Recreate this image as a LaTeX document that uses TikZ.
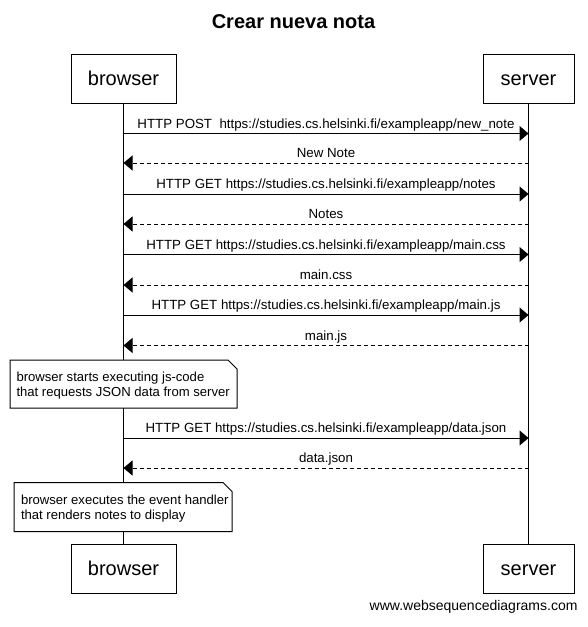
\documentclass[tikz,border=0pt]{standalone}
\usepackage{fontspec}
\setmainfont{Liberation Sans}
\usetikzlibrary{arrows.meta}
\tikzset{every picture/.style={line width=1pt}}
\tikzset{
  actorbox/.style={draw, fill=white, inner sep=0pt, minimum height=49pt, text height=14.3pt, text depth=0pt, font=\fontsize{20}{24}\selectfont},
  msgline/.style={-{Triangle[length=9pt,width=15pt]}},
  replyline/.style={msgline, dash pattern=on 4pt off 3pt},
  msglabel/.style={midway, anchor=base, yshift=5.5pt, inner sep=0pt, font=\fontsize{13.3}{15}\selectfont},
  notetext/.style={anchor=base west, align=left, inner sep=0pt, font=\fontsize{13.1}{15}\selectfont}
}

\begin{document}
\begin{tikzpicture}[x=1pt,y=1pt,yscale=-1]
\useasboundingbox (0,0) rectangle (588,627);

% Title
\node [anchor=base, inner sep=0pt, font=\bfseries\fontsize{20}{24}\selectfont] (title) at (293.5,28.3) {Crear nueva nota};

%Shape: Actors
\node [actorbox, minimum width=105pt] (browserTop) at (123.5,78.5) {browser};
\node [actorbox, minimum width=91pt] (serverTop) at (528.5,78.5) {server};
\node [actorbox, minimum width=105pt] (browserBot) at (123.5,568.5) {browser};
\node [actorbox, minimum width=91pt] (serverBot) at (528.5,568.5) {server};

%Straight Lines: lifelines
\draw (browserTop.south) -- (browserBot.north);
\draw (serverTop.south) -- (serverBot.north);

% message ends on the lifelines
\coordinate (b1) at (123.5,133.5); \coordinate (s1) at (528.5,133.5);
\coordinate (b2) at (123.5,163);   \coordinate (s2) at (528.5,163);
\coordinate (b3) at (123.5,194);   \coordinate (s3) at (528.5,194);
\coordinate (b4) at (123.5,224);   \coordinate (s4) at (528.5,224);
\coordinate (b5) at (123.5,254.5); \coordinate (s5) at (528.5,254.5);
\coordinate (b6) at (123.5,285);   \coordinate (s6) at (528.5,285);
\coordinate (b7) at (123.5,315);   \coordinate (s7) at (528.5,315);
\coordinate (b8) at (123.5,345.5); \coordinate (s8) at (528.5,345.5);
\coordinate (b9) at (123.5,438);   \coordinate (s9) at (528.5,438);
\coordinate (b10) at (123.5,468);  \coordinate (s10) at (528.5,468);

%Straight Lines: messages
\draw [msgline] (b1) -- node [msglabel] {HTTP POST\ \ https://studies.cs.helsinki.fi/exampleapp/new\textunderscore note} (s1);
\draw [replyline] (s2) -- node [msglabel] {New Note} (b2);
\draw [msgline] (b3) -- node [msglabel] {HTTP GET https://studies.cs.helsinki.fi/exampleapp/notes} (s3);
\draw [replyline] (s4) -- node [msglabel] {Notes} (b4);
\draw [msgline] (b5) -- node [msglabel] {HTTP GET https://studies.cs.helsinki.fi/exampleapp/main.css} (s5);
\draw [replyline] (s6) -- node [msglabel] {main.css} (b6);
\draw [msgline] (b7) -- node [msglabel] {HTTP GET https://studies.cs.helsinki.fi/exampleapp/main.js} (s7);
\draw [replyline] (s8) -- node [msglabel] {main.js} (b8);
\draw [msgline] (b9) -- node [msglabel] {HTTP GET https://studies.cs.helsinki.fi/exampleapp/data.json} (s9);
\draw [replyline] (s10) -- node [msglabel] {data.json} (b10);

%Shape: Notes
\draw [fill=white] (10,360) -- (228,360) -- (237,369) -- (237,408) -- (10,408) -- cycle;
\node [notetext] (noteJs) at (16,396.5) {browser starts executing js-code\\that requests JSON data from server};
\draw [fill=white] (14,482.5) -- (223,482.5) -- (232,491.5) -- (232,531.5) -- (14,531.5) -- cycle;
\node [notetext] (noteRender) at (20.5,519) {browser executes the event handler\\that renders notes to display};

% Text Node
\node [anchor=base east, inner sep=0pt, font=\fontsize{14}{16}\selectfont] (footer) at (578,610) {www.websequencediagrams.com};

\end{tikzpicture}
\end{document}
